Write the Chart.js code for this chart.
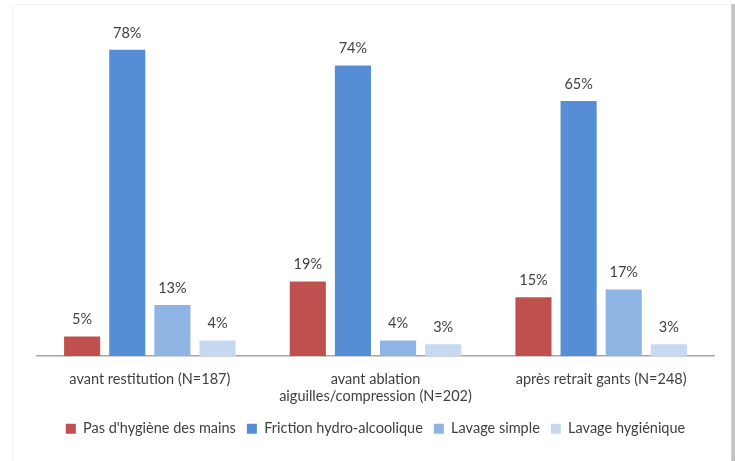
<!DOCTYPE html>
<html><head><meta charset="utf-8">
<script src="https://cdn.jsdelivr.net/npm/chart.js@4/dist/chart.umd.min.js"></script>
<style>
html,body{margin:0;padding:0;background:#fff;}
#wrap{position:relative;width:735px;height:461px;}
#frame{position:absolute;left:12px;top:4px;width:718px;height:457px;border-left:1px solid #f3f3f3;border-top:1px solid #f3f3f3;pointer-events:none;}
#shadow{position:absolute;left:731px;top:4px;width:4px;height:457px;background:linear-gradient(to right,#d0d0d0,#bdbdbd);pointer-events:none;}
</style></head>
<body>
<div id="wrap"><canvas id="c" width="735" height="461"></canvas><div id="frame"></div><div id="shadow"></div></div>
<script>
const categories = ["avant restitution (N=187)", ["avant ablation", "aiguilles/compression (N=202)"], "après retrait gants (N=248)"];
const seriesNames = ["Pas d'hygiène des mains", "Friction hydro-alcoolique", "Lavage simple", "Lavage hygiénique"];
const pasHygiene = [5, 19, 15];
const friction = [78, 74, 65];
const lavageSimple = [13, 4, 17];
const lavageHygienique = [4, 3, 3];
const colors = ["#C0504D", "#558ED5", "#8EB4E3", "#C6D9F1"];
const FONT = "Lato, 'Open Sans', sans-serif";
const TXT = "#404040";

const valueLabels = {
  id: 'valueLabels',
  afterDatasetsDraw(chart) {
    const ctx = chart.ctx;
    ctx.save();
    ctx.font = "14.5px " + FONT;
    ctx.fillStyle = TXT;
    ctx.textAlign = 'center';
    ctx.textBaseline = 'middle';
    chart.data.datasets.forEach((ds, i) => {
      chart.getDatasetMeta(i).data.forEach((el, j) => {
        ctx.fillText(ds.data[j] + '%', el.x, el.y - 17);
      });
    });
    ctx.restore();
  }
};

new Chart(document.getElementById('c'), {
  type: 'bar',
  data: {
    labels: categories,
    datasets: [
      {label: seriesNames[0], data: pasHygiene, backgroundColor: colors[0]},
      {label: seriesNames[1], data: friction, backgroundColor: colors[1]},
      {label: seriesNames[2], data: lavageSimple, backgroundColor: colors[2]},
      {label: seriesNames[3], data: lavageHygienique, backgroundColor: colors[3]}
    ]
  },
  options: {
    responsive: false,
    animation: false,
    devicePixelRatio: 1,
    layout: {padding: {left: 37, right: 21, top: 42, bottom: 15}},
    datasets: {bar: {categoryPercentage: 0.8, barPercentage: 0.8}},
    scales: {
      x: {
        grid: {display: false, drawTicks: false},
        border: {display: true, color: '#A6A6A6', width: 1.5},
        ticks: {color: TXT, font: {family: FONT, size: 14.5, lineHeight: 1.15}, padding: 15, maxRotation: 0, autoSkip: false},
        afterFit: (scale) => { scale.height -= 9; }
      },
      y: {display: false, min: 0, max: 80}
    },
    plugins: {
      legend: {
        position: 'bottom',
        labels: {color: TXT, font: {family: FONT, size: 14.5}, boxWidth: 10, boxHeight: 10, padding: 11}
      },
      tooltip: {enabled: false}
    }
  },
  plugins: [valueLabels]
});
</script>
</body></html>
